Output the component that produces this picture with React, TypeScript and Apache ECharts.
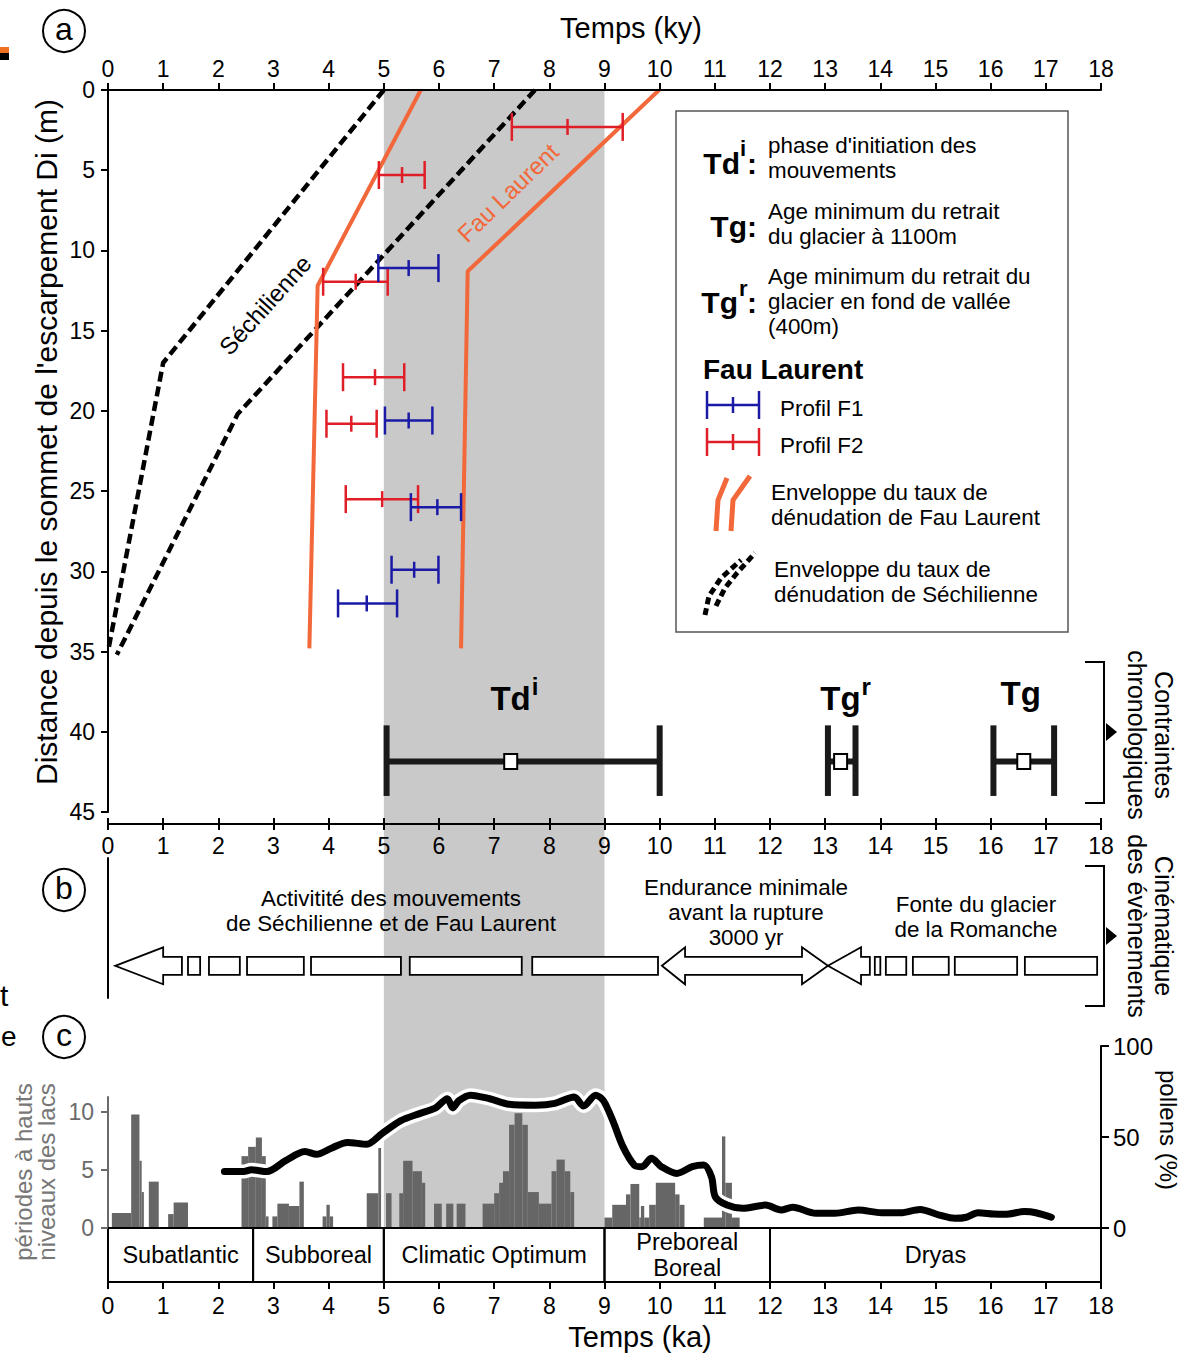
import React, { useEffect, useRef } from "react";
import * as echarts from "echarts";

// ---------------- data ----------------
const timeMin = 0;
const timeMax = 18;
const grayBand = [5, 9];

// envelopes [age (ky), depth (m)]
const sechilienneEnvelopeA = [[5.0, 0], [1.0, 17.0], [0.0, 35.0]];
const sechilienneEnvelopeB = [[7.74, 0], [2.35, 20.2], [0.16, 35.2]];
const fauLaurentEnvelopeA = [[5.67, 0], [3.8, 12.2], [3.65, 34.8]];
const fauLaurentEnvelopeB = [[9.99, 0], [6.52, 11.3], [6.4, 34.8]];

// profiles [age, depth, ageMin, ageMax]
const profilF2 = [
  [8.33, 2.3, 7.32, 9.33],
  [5.33, 5.3, 4.91, 5.74],
  [4.49, 11.95, 3.9, 5.07],
  [4.84, 17.9, 4.26, 5.37],
  [4.41, 20.8, 3.96, 4.87],
  [4.97, 25.5, 4.31, 5.62],
];
const profilF1 = [
  [5.45, 11.1, 4.9, 5.99],
  [5.45, 20.6, 5.02, 5.88],
  [5.97, 26.0, 5.49, 6.4],
  [5.55, 29.9, 5.14, 5.99],
  [4.69, 32.0, 4.17, 5.24],
];

// chronological constraints
const chronoNames = ["Td", "Tg", "Tg"];
const chronoSups = ["i", "r", ""];
const chronoMin = [5.05, 13.05, 16.05];
const chronoBest = [7.3, 13.28, 16.6];
const chronoMax = [10.0, 13.55, 17.15];
const chronoDepth = 41.85;
const chronoCapTop = 39.6;
const chronoCapBottom = 44.0;

// labels along envelopes
const envelopeLabels = ["Fau Laurent", "Séchilienne"];
const envelopeLabelPos = [[7.25, 6.4], [2.85, 13.4]];
const envelopeLabelAngle = [44, 48];

// panel b arrows (ky)
const arrowLevel = 0.23;
const activityArrow = [0.13, 1.0, 1.34];
const activityBlocks = [[1.45, 1.67], [1.83, 2.39], [2.52, 3.55], [3.68, 5.31], [5.47, 7.5], [7.69, 9.97]];
const enduranceArrow = [10.04, 10.46, 12.58, 13.05];
const meltArrow = [13.05, 13.65, 13.81];
const meltBlocks = [[13.9, 14.0], [14.1, 14.47], [14.59, 15.24], [15.35, 16.48], [16.62, 17.93]];

// panel c lake level histogram [start, end, value]
const lakeBars = [
  [0.07, 0.42, 1.3], [0.42, 0.57, 9.8], [0.57, 0.61, 5.8], [0.61, 0.65, 3.1],
  [0.74, 0.92, 4.0], [1.09, 1.19, 1.2], [1.19, 1.45, 2.2],
  [2.42, 2.54, 6.2], [2.54, 2.68, 7.0], [2.68, 2.79, 7.8], [2.79, 2.86, 6.2], [2.86, 2.91, 1.0],
  [2.98, 3.07, 1.0], [3.07, 3.28, 2.1], [3.28, 3.47, 1.9], [3.47, 3.55, 4.0],
  [3.89, 3.96, 1.0], [3.96, 4.02, 2.0], [4.02, 4.08, 1.0],
  [4.69, 4.9, 3.0], [4.9, 4.95, 6.9], [5.04, 5.14, 3.0],
  [5.28, 5.35, 3.0], [5.35, 5.52, 5.8], [5.52, 5.69, 4.9], [5.69, 5.75, 3.9],
  [5.91, 6.05, 2.1], [6.13, 6.26, 2.1], [6.32, 6.48, 2.1],
  [6.79, 7.0, 2.1], [7.0, 7.09, 3.0], [7.09, 7.16, 3.9], [7.16, 7.27, 4.9],
  [7.27, 7.37, 8.9], [7.37, 7.51, 9.9], [7.51, 7.61, 8.9], [7.61, 7.81, 3.1],
  [7.81, 8.04, 2.1], [8.04, 8.13, 4.9], [8.13, 8.28, 5.9], [8.28, 8.38, 4.9], [8.38, 8.45, 3.1],
  [9.0, 9.14, 0.9], [9.14, 9.39, 2.0], [9.39, 9.47, 2.9], [9.47, 9.63, 3.8],
  [9.63, 9.66, 0.9], [9.66, 9.72, 1.9], [9.72, 9.81, 0.9], [9.81, 9.93, 2.0],
  [9.93, 10.28, 3.9], [10.28, 10.36, 2.9], [10.36, 10.45, 2.0],
  [10.8, 11.13, 0.9], [11.13, 11.19, 7.9], [11.19, 11.31, 3.9], [11.31, 11.45, 0.9],
];

// pollen curve
const pollenAges = [2.11, 2.46, 2.6, 2.88, 3.22, 3.57, 3.78, 4.06, 4.34, 4.69, 4.97, 5.31, 5.66, 5.94, 6.15, 6.25, 6.36, 6.57, 6.92, 7.27, 7.75, 8.1, 8.45, 8.62, 8.84, 8.98, 9.15, 9.33, 9.54, 9.68, 9.85, 10.03, 10.31, 10.59, 10.8, 10.94, 11.01, 11.22, 11.5, 11.92, 12.2, 12.41, 12.83, 13.18, 13.6, 14.02, 14.37, 14.72, 15.07, 15.35, 15.56, 15.77, 16.05, 16.26, 16.61, 16.82, 17.1];
const pollenPct = [31, 31, 32, 31, 37, 42, 40.5, 44, 47, 46, 52, 59, 63, 66, 71, 66, 70, 73, 71, 68, 67.5, 68.5, 72, 67, 73, 70, 59, 45, 34.6, 33.7, 38.3, 33.7, 30, 33.7, 34.6, 28, 17, 12.6, 10.8, 12.6, 9.9, 11.4, 8.1, 8.1, 9.9, 8.4, 8.4, 10.2, 7.1, 5.3, 5.9, 8.4, 7.7, 7.5, 9.0, 8.4, 5.9];

// periods
const periodNames = ["Subatlantic", "Subboreal", "Climatic Optimum", "Preboreal\nBoreal", "Dryas"];
const periodStart = [0, 2.63, 5, 9, 12];
const periodEnd = [2.63, 5, 9, 12, 18];

const lakeTicks = [0, 5, 10];

// ---------------- styles ----------------
const FONT = "'Liberation Sans', Arial, Helvetica, sans-serif";
const ORANGE = "#f2683a";
const RED = "#e01e28";
const BLUE = "#1a1aa6";
const BAND = "#c9c9c9";
const BAR = "#666666";
const AXIS_GRAY = "#6a6a6a";
const BODY = 22.4;

function txt(x: number, y: number, text: string, o: any = {}) {
  const size = o.size ?? BODY;
  const align = o.align ?? "left";
  const valign = o.valign ?? "middle";
  return {
    type: "text",
    x,
    y,
    rotation: o.rotation ?? 0,
    z: 100,
    silent: true,
    style: {
      text,
      fontSize: size,
      fontWeight: o.weight ?? "normal",
      fontFamily: FONT,
      fill: o.color ?? "#000",
      align,
      verticalAlign: valign,
      textAlign: align,
      textVerticalAlign: valign,
      lineHeight: o.lineHeight ?? Math.round(size * 1.15),
    },
  };
}

function tstyle(text: string, size: number, weight: string, align: string, valign: string, color = "#000") {
  return {
    text,
    fontSize: size,
    fontWeight: weight,
    fontFamily: FONT,
    fill: color,
    align,
    verticalAlign: valign,
    textAlign: align,
    textVerticalAlign: valign,
  };
}

function errorBarSeries(data: number[][], color: string, z: number) {
  return {
    type: "custom",
    xAxisIndex: 0,
    yAxisIndex: 0,
    z,
    silent: true,
    data: data.map((d) => [d[0], d[1], d[2], d[3]]),
    renderItem: (params: any, api: any) => {
      const d = data[params.dataIndex];
      const pl = api.coord([d[2], d[1]]);
      const pm = api.coord([d[0], d[1]]);
      const ph = api.coord([d[3], d[1]]);
      const style = { stroke: color, lineWidth: 2.5 };
      return {
        type: "group",
        children: [
          { type: "line", shape: { x1: pl[0], y1: pl[1], x2: ph[0], y2: ph[1] }, style },
          { type: "line", shape: { x1: pl[0], y1: pl[1] - 14, x2: pl[0], y2: pl[1] + 14 }, style },
          { type: "line", shape: { x1: ph[0], y1: ph[1] - 14, x2: ph[0], y2: ph[1] + 14 }, style },
          { type: "line", shape: { x1: pm[0], y1: pm[1] - 8, x2: pm[0], y2: pm[1] + 8 }, style },
        ],
      };
    },
  };
}

const arrowShapes: any[] = [
  { kind: "head", xs: activityArrow },
  ...activityBlocks.map((b) => ({ kind: "block", xs: b })),
  { kind: "double", xs: enduranceArrow },
  { kind: "head", xs: meltArrow },
  ...meltBlocks.map((b) => ({ kind: "block", xs: b })),
];

function buildOption() {
  const axisLineBlack = { show: true, onZero: false, lineStyle: { color: "#000", width: 2 } };
  const tickBlack = { show: true, length: 7, lineStyle: { color: "#000", width: 2 } };
  const lbl = { fontSize: 23, color: "#000", fontFamily: FONT };
  const hiddenX = (gridIndex: number) => ({
    gridIndex, type: "value", min: timeMin, max: timeMax, show: false,
  });

  const graphics: any[] = [];

  // circled panel letters
  [["a", 31], ["b", 890], ["c", 1037]].forEach(([l, y]: any) => {
    graphics.push({ type: "circle", shape: { cx: 64, cy: y, r: 21 }, style: { fill: "none", stroke: "#000", lineWidth: 2 }, z: 100, silent: true });
    graphics.push(txt(64, y - 2, l, { size: 32, align: "center" }));
  });

  // stray marks at left border (cropped neighbouring figure)
  graphics.push({ type: "rect", shape: { x: 0, y: 47, width: 9, height: 6 }, style: { fill: "#f07020" }, z: 100 });
  graphics.push({ type: "rect", shape: { x: 0, y: 53, width: 9, height: 7 }, style: { fill: "#000" }, z: 100 });
  graphics.push(txt(0, 995, "t", { size: 30 }));
  graphics.push(txt(1, 1036, "e", { size: 28 }));

  // titles
  graphics.push(txt(631, 28, "Temps (ky)", { size: 29, align: "center" }));
  graphics.push(txt(46, 442, "Distance depuis le sommet de l'escarpement Di (m)", { size: 30, align: "center", rotation: Math.PI / 2 }));
  graphics.push(txt(640, 1337, "Temps (ka)", { size: 29, align: "center" }));

  // legend box
  graphics.push({ type: "rect", shape: { x: 676, y: 111, width: 392, height: 521 }, style: { fill: "#fff", stroke: "#555", lineWidth: 1.5 }, z: 90 });
  // Td^i
  graphics.push(txt(740, 163, "Td", { size: 30, weight: "bold", align: "right" }));
  graphics.push(txt(740, 148, "i", { size: 22, weight: "bold" }));
  graphics.push(txt(747, 163, ":", { size: 30, weight: "bold" }));
  graphics.push(txt(768, 158, "phase d'initiation des\nmouvements", { lineHeight: 25 }));
  // Tg
  graphics.push(txt(757, 226, "Tg:", { size: 30, weight: "bold", align: "right" }));
  graphics.push(txt(768, 224, "Age minimum du retrait\ndu glacier à 1100m", { lineHeight: 25 }));
  // Tg^r
  graphics.push(txt(738, 302, "Tg", { size: 30, weight: "bold", align: "right" }));
  graphics.push(txt(739, 288, "r", { size: 22, weight: "bold" }));
  graphics.push(txt(747, 302, ":", { size: 30, weight: "bold" }));
  graphics.push(txt(768, 301, "Age minimum du retrait du\nglacier en fond de vallée\n(400m)", { lineHeight: 25 }));
  graphics.push(txt(703, 369, "Fau Laurent", { size: 28, weight: "bold" }));
  // error bar icons
  [[405, BLUE, "Profil F1"], [442, RED, "Profil F2"]].forEach(([y, c, t]: any) => {
    const s = { stroke: c, lineWidth: 2.5 };
    graphics.push({ type: "line", shape: { x1: 707, y1: y, x2: 759, y2: y }, style: s, z: 100 });
    graphics.push({ type: "line", shape: { x1: 707, y1: y - 14, x2: 707, y2: y + 14 }, style: s, z: 100 });
    graphics.push({ type: "line", shape: { x1: 759, y1: y - 14, x2: 759, y2: y + 14 }, style: s, z: 100 });
    graphics.push({ type: "line", shape: { x1: 733, y1: y - 8, x2: 733, y2: y + 8 }, style: s, z: 100 });
    graphics.push(txt(780, y + 3, t));
  });
  // orange envelope icon
  graphics.push({ type: "polyline", shape: { points: [[716, 531], [718, 500], [727, 478]] }, style: { stroke: ORANGE, lineWidth: 5, fill: "none" }, z: 100 });
  graphics.push({ type: "polyline", shape: { points: [[731, 531], [733, 500], [750, 476]] }, style: { stroke: ORANGE, lineWidth: 5, fill: "none" }, z: 100 });
  graphics.push(txt(771, 505, "Enveloppe du taux de\ndénudation de Fau Laurent", { lineHeight: 25 }));
  // dashed envelope icon
  graphics.push({ type: "polyline", shape: { points: [[705, 615], [709, 596], [721, 578], [741, 560]] }, style: { stroke: "#000", lineWidth: 5, fill: "none", lineDash: [7, 4] }, z: 100 });
  graphics.push({ type: "polyline", shape: { points: [[716, 606], [725, 588], [737, 573], [755, 553]] }, style: { stroke: "#000", lineWidth: 5, fill: "none", lineDash: [7, 4] }, z: 100 });
  graphics.push(txt(774, 582, "Enveloppe du taux de\ndénudation de Séchilienne", { lineHeight: 25 }));

  // panel b texts
  graphics.push(txt(391, 911, "Activitité des mouvements\nde Séchilienne et de Fau Laurent", { align: "center", lineHeight: 25 }));
  graphics.push(txt(746, 912, "Endurance minimale\navant la rupture\n3000 yr", { align: "center", lineHeight: 25 }));
  graphics.push(txt(976, 917, "Fonte du glacier\nde la Romanche", { align: "center", lineHeight: 25 }));

  // brackets
  [[662, 803, 732, "Contraintes\nchronologiques", 735], [866, 1006, 936, "Cinématique\ndes évènements", 926]].forEach(([t, b, m, label, ly]: any) => {
    graphics.push({ type: "polyline", shape: { points: [[1085, t], [1104, t], [1104, b], [1085, b]] }, style: { stroke: "#000", lineWidth: 2, fill: "none" }, z: 100 });
    graphics.push({ type: "polygon", shape: { points: [[1106, m - 9], [1117, m], [1106, m + 9]] }, style: { fill: "#000" }, z: 100 });
    graphics.push(txt(1150, ly, label, { size: 25, align: "center", rotation: -Math.PI / 2, lineHeight: 27 }));
  });

  // panel c titles
  graphics.push(txt(35, 1172, "périodes à hauts\nniveaux des lacs", { size: 24, align: "center", rotation: Math.PI / 2, lineHeight: 23, color: "#777777" }));
  graphics.push(txt(1168, 1130, "pollens (%)", { size: 24, align: "center", rotation: -Math.PI / 2 }));

  const option: any = {
    animation: false,
    backgroundColor: "#fff",
    textStyle: { fontFamily: FONT },
    grid: [
      { left: 108, top: 90, width: 993, height: 722 },
      { left: 108, top: 858, width: 993, height: 140 },
      { left: 108, top: 1097, width: 993, height: 131 },
      { left: 108, top: 1046, width: 993, height: 182 },
      { left: 108, top: 1228, width: 993, height: 54 },
      { left: 108, top: 90, width: 993, height: 1138 },
    ],
    xAxis: [
      { gridIndex: 0, type: "value", min: timeMin, max: timeMax, interval: 1, position: "top", z: 10,
        axisLine: axisLineBlack, axisTick: tickBlack, axisLabel: { ...lbl, margin: 10 }, splitLine: { show: false } },
      { gridIndex: 0, type: "value", min: timeMin, max: timeMax, interval: 1, position: "bottom", offset: 12, z: 10,
        axisLine: axisLineBlack, axisTick: { ...tickBlack, length: 6 }, axisLabel: { ...lbl, margin: 10 }, splitLine: { show: false } },
      { gridIndex: 0, type: "value", min: timeMin, max: timeMax, interval: 1, position: "bottom", offset: 12, z: 10,
        axisLine: axisLineBlack, axisTick: { ...tickBlack, length: 6, inside: true }, axisLabel: { show: false }, splitLine: { show: false } },
      hiddenX(1),
      { gridIndex: 2, type: "value", min: timeMin, max: timeMax, z: 10,
        axisLine: axisLineBlack, axisTick: { show: false }, axisLabel: { show: false }, splitLine: { show: false } },
      hiddenX(3),
      { gridIndex: 4, type: "value", min: timeMin, max: timeMax, interval: 1, position: "bottom", z: 10,
        axisLine: axisLineBlack, axisTick: tickBlack, axisLabel: { ...lbl, margin: 12 }, splitLine: { show: false } },
      hiddenX(5),
    ],
    yAxis: [
      { gridIndex: 0, type: "value", inverse: true, min: 0, max: 45, interval: 5, z: 10,
        axisLine: axisLineBlack, axisTick: tickBlack, axisLabel: { ...lbl, margin: 13 }, splitLine: { show: false } },
      { gridIndex: 1, type: "value", min: 0, max: 1, z: 10,
        axisLine: axisLineBlack, axisTick: { show: false }, axisLabel: { show: false }, splitLine: { show: false } },
      { gridIndex: 2, type: "value", min: 0, max: 11.3, z: 10,
        axisLine: { show: true, onZero: false, lineStyle: { color: AXIS_GRAY, width: 2 } },
        axisTick: { show: true, length: 7, customValues: lakeTicks, lineStyle: { color: AXIS_GRAY, width: 2 } },
        axisLabel: { ...lbl, color: AXIS_GRAY, margin: 14, customValues: lakeTicks }, splitLine: { show: false } },
      { gridIndex: 3, type: "value", position: "right", min: 0, max: 100, interval: 50, z: 10,
        axisLine: axisLineBlack, axisTick: { ...tickBlack, length: 8 }, axisLabel: { ...lbl, fontSize: 24, margin: 12 }, splitLine: { show: false } },
      { gridIndex: 4, type: "value", min: 0, max: 1, show: false },
      { gridIndex: 5, type: "value", min: 0, max: 1, show: false },
    ],
    graphic: { elements: graphics },
    series: [
      // gray band
      {
        type: "custom", xAxisIndex: 7, yAxisIndex: 5, z: 0, silent: true,
        data: [[grayBand[0], grayBand[1]]],
        renderItem: (params: any, api: any) => {
          const p0 = api.coord([grayBand[0], 1]);
          const p1 = api.coord([grayBand[1], 0]);
          return { type: "rect", shape: { x: p0[0], y: p0[1], width: p1[0] - p0[0], height: p1[1] - p0[1] }, style: { fill: BAND } };
        },
      },
      // envelopes
      ...[sechilienneEnvelopeA, sechilienneEnvelopeB].map((d) => ({
        type: "line", xAxisIndex: 0, yAxisIndex: 0, data: d, symbol: "none", z: 3, silent: true,
        lineStyle: { color: "#000", width: 4.5, type: [10, 5] },
      })),
      ...[fauLaurentEnvelopeA, fauLaurentEnvelopeB].map((d) => ({
        type: "line", xAxisIndex: 0, yAxisIndex: 0, data: d, symbol: "none", z: 3, silent: true,
        lineStyle: { color: ORANGE, width: 4 },
      })),
      errorBarSeries(profilF2, RED, 4),
      errorBarSeries(profilF1, BLUE, 5),
      // envelope labels
      {
        type: "custom", xAxisIndex: 0, yAxisIndex: 0, z: 6, silent: true,
        data: envelopeLabelPos,
        renderItem: (params: any, api: any) => {
          const i = params.dataIndex;
          const p = api.coord(envelopeLabelPos[i]);
          return {
            type: "text", x: p[0], y: p[1], rotation: (envelopeLabelAngle[i] * Math.PI) / 180,
            style: tstyle(envelopeLabels[i], 24, "normal", "center", "middle", i === 0 ? ORANGE : "#000"),
          };
        },
      },
      // chronological constraints
      {
        type: "custom", xAxisIndex: 0, yAxisIndex: 0, z: 6, silent: true,
        data: chronoBest.map((b) => [b, chronoDepth]),
        renderItem: (params: any, api: any) => {
          const i = params.dataIndex;
          const pc = api.coord([chronoBest[i], chronoDepth]);
          const xl = api.coord([chronoMin[i], chronoDepth])[0];
          const xr = api.coord([chronoMax[i], chronoDepth])[0];
          const yt = api.coord([chronoMin[i], chronoCapTop])[1];
          const yb = api.coord([chronoMin[i], chronoCapBottom])[1];
          const s = { stroke: "#1a1a1a", lineWidth: 6 };
          const children: any[] = [
            { type: "line", shape: { x1: xl, y1: pc[1], x2: xr, y2: pc[1] }, style: s },
            { type: "line", shape: { x1: xl, y1: yt, x2: xl, y2: yb }, style: s },
            { type: "line", shape: { x1: xr, y1: yt, x2: xr, y2: yb }, style: s },
            { type: "rect", shape: { x: pc[0] - 6.5, y: pc[1] - 7.5, width: 13, height: 15 }, style: { fill: "#fff", stroke: "#000", lineWidth: 2 } },
          ];
          if (chronoSups[i]) {
            children.push({ type: "text", x: pc[0] + 20, y: pc[1] - 63, style: tstyle(chronoNames[i], 33, "bold", "right", "middle") });
            children.push({ type: "text", x: pc[0] + 21, y: pc[1] - 75, style: tstyle(chronoSups[i], 24, "bold", "left", "middle") });
          } else {
            children.push({ type: "text", x: pc[0] - 3, y: pc[1] - 68, style: tstyle(chronoNames[i], 33, "bold", "center", "middle") });
          }
          return { type: "group", children };
        },
      },
      // panel b arrows
      {
        type: "custom", xAxisIndex: 3, yAxisIndex: 1, z: 5, silent: true,
        data: arrowShapes.map((s) => [s.xs[0], arrowLevel]),
        renderItem: (params: any, api: any) => {
          const s = arrowShapes[params.dataIndex];
          const X = (v: number) => api.coord([v, arrowLevel])[0];
          const cy = api.coord([0, arrowLevel])[1];
          const H = 18.5, h = 9;
          const style = { fill: "#fff", stroke: "#000", lineWidth: 1.8 };
          if (s.kind === "block") {
            return { type: "rect", shape: { x: X(s.xs[0]), y: cy - h, width: X(s.xs[1]) - X(s.xs[0]), height: 2 * h }, style };
          }
          if (s.kind === "head") {
            const [t, b, e] = s.xs.map(X);
            return { type: "polygon", shape: { points: [[t, cy], [b, cy - H], [b, cy - h], [e, cy - h], [e, cy + h], [b, cy + h], [b, cy + H]] }, style };
          }
          const [l, lb, rb, r] = s.xs.map(X);
          return {
            type: "polygon",
            shape: { points: [[l, cy], [lb, cy - H], [lb, cy - h], [rb, cy - h], [rb, cy - H], [r, cy], [rb, cy + H], [rb, cy + h], [lb, cy + h], [lb, cy + H]] },
            style,
          };
        },
      },
      // lake histogram
      {
        type: "custom", xAxisIndex: 4, yAxisIndex: 2, z: 3, silent: true,
        data: lakeBars.map((b) => [b[0], b[2]]),
        renderItem: (params: any, api: any) => {
          const b = lakeBars[params.dataIndex];
          const p0 = api.coord([b[0], b[2]]);
          const p1 = api.coord([b[1], 0]);
          return { type: "rect", shape: { x: p0[0], y: p0[1], width: p1[0] - p0[0], height: p1[1] - p0[1] }, style: { fill: BAR } };
        },
      },
      // pollen curve with white halo
      {
        type: "line", xAxisIndex: 5, yAxisIndex: 3, z: 6, silent: true, symbol: "none", smooth: 0.3,
        data: pollenAges.map((a, i) => [a, pollenPct[i]]),
        lineStyle: { color: "#fff", width: 14, cap: "round", join: "round" },
      },
      {
        type: "line", xAxisIndex: 5, yAxisIndex: 3, z: 7, silent: true, symbol: "none", smooth: 0.3,
        data: pollenAges.map((a, i) => [a, pollenPct[i]]),
        lineStyle: { color: "#000", width: 7, cap: "round", join: "round" },
      },
      // periods
      {
        type: "custom", xAxisIndex: 6, yAxisIndex: 4, z: 5, silent: true,
        data: periodStart.map((s, i) => [s, periodEnd[i]]),
        renderItem: (params: any, api: any) => {
          const i = params.dataIndex;
          const p0 = api.coord([periodStart[i], 1]);
          const p1 = api.coord([periodEnd[i], 0]);
          return {
            type: "group",
            children: [
              { type: "rect", shape: { x: p0[0], y: p0[1], width: p1[0] - p0[0], height: p1[1] - p0[1] }, style: { fill: "none", stroke: "#000", lineWidth: 2 } },
              { type: "text", x: (p0[0] + p1[0]) / 2, y: (p0[1] + p1[1]) / 2, style: { ...tstyle(periodNames[i], 23.5, "normal", "center", "middle"), lineHeight: 26 } },
            ],
          };
        },
      },
    ],
  };
  return option;
}

export default function App() {
  const ref = useRef<HTMLDivElement>(null);
  useEffect(() => {
    const chart = echarts.init(ref.current as HTMLDivElement, null, { renderer: "svg" });
    chart.setOption(buildOption());
    return () => chart.dispose();
  }, []);
  return <div ref={ref} style={{ position: "absolute", left: 0, top: 0, width: 1186, height: 1353 }} />;
}
